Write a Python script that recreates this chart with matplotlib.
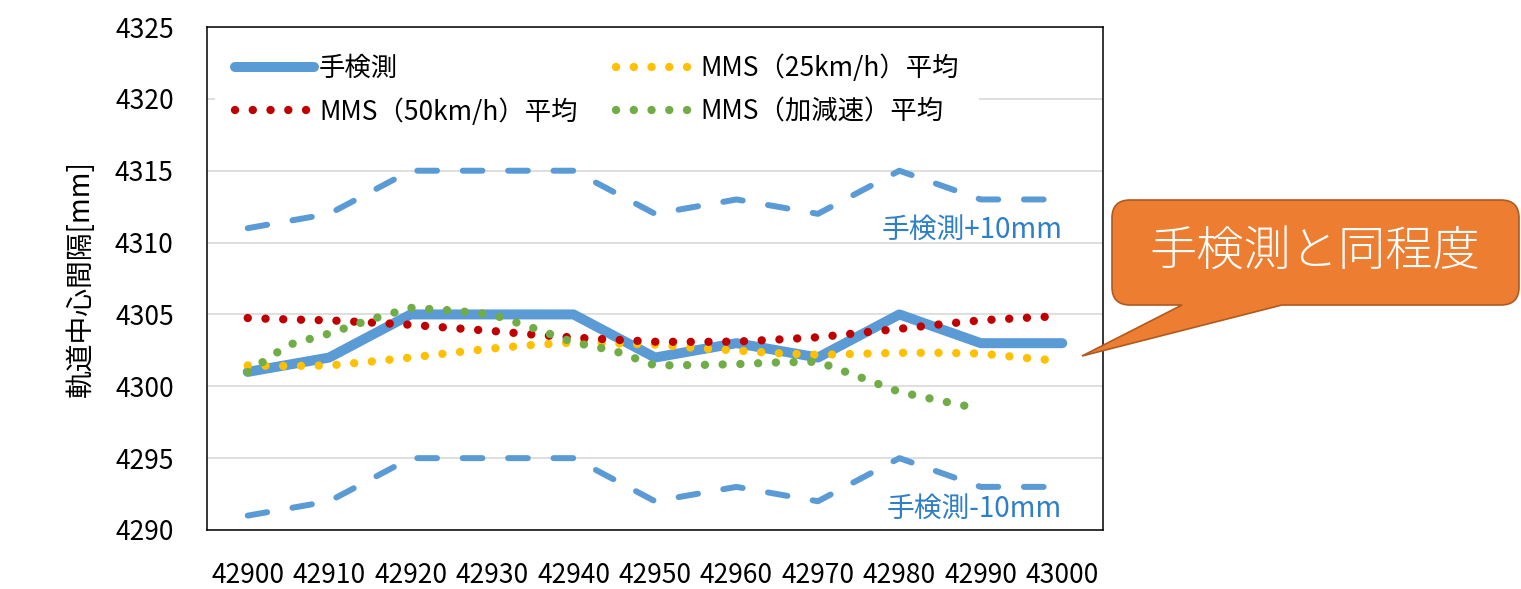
import matplotlib.pyplot as plt
from matplotlib.path import Path
from matplotlib.patches import PathPatch

plt.rcParams['font.family'] = ['Noto Sans CJK JP', 'DejaVu Sans']

# hand measurement every 10 m
x_hand = [42900, 42910, 42920, 42930, 42940, 42950, 42960, 42970, 42980, 42990, 43000]
hand = [4301, 4302, 4305, 4305, 4305, 4302, 4303, 4302, 4305, 4303, 4303]
hand_plus = [4311, 4312, 4315, 4315, 4315, 4312, 4313, 4312, 4315, 4313, 4313]
hand_minus = [4291, 4292, 4295, 4295, 4295, 4292, 4293, 4292, 4295, 4293, 4293]

x_mms = [42900, 42905, 42910, 42915, 42920, 42925, 42930, 42935, 42940, 42945, 42950,
         42955, 42960, 42965, 42970, 42975, 42980, 42985, 42990, 42995, 43000]
mms25 = [4301.45, 4301.41, 4301.45, 4301.71, 4302.00, 4302.33, 4302.63, 4302.88, 4303.04, 4302.99, 4302.90,
         4302.67, 4302.49, 4302.30, 4302.19, 4302.26, 4302.33, 4302.33, 4302.28, 4302.00, 4301.75]
mms50 = [4304.75, 4304.65, 4304.59, 4304.44, 4304.28, 4304.06, 4303.85, 4303.60, 4303.39, 4303.24, 4303.10,
         4303.09, 4303.11, 4303.25, 4303.41, 4303.71, 4304.00, 4304.31, 4304.59, 4304.75, 4304.89]
x_acc = [42900, 42905, 42910, 42915, 42920, 42925, 42930, 42935, 42940, 42945, 42950,
         42955, 42960, 42965, 42970, 42975, 42980, 42985, 42988]
mms_acc = [4300.99, 4302.88, 4303.67, 4304.63, 4305.46, 4305.28, 4305.00, 4304.06, 4303.06, 4302.47, 4301.45,
           4301.48, 4301.54, 4301.66, 4301.71, 4300.67, 4299.61, 4299.00, 4298.65]

W, H = 1521, 589
fig = plt.figure(figsize=(W / 100, H / 100), dpi=100)
ax = fig.add_axes([207 / W, 1 - 530 / H, (1103 - 207) / W, (530 - 27) / H])

blue = '#5B9BD5'
dots = dict(lw=6.0, linestyle=(0, (0.01, 2.12)), dash_capstyle='round')

ax.plot(x_hand, hand_plus, color=blue, lw=4.3, linestyle=(0, (3.3, 4.3)), dash_capstyle='round')
ax.plot(x_hand, hand_minus, color=blue, lw=4.3, linestyle=(0, (3.3, 4.3)), dash_capstyle='round')
l_hand, = ax.plot(x_hand, hand, color=blue, lw=7.2, solid_capstyle='round', label='手検測')
l25, = ax.plot(x_mms, mms25, color='#FFC000', label='MMS（25km/h）平均', **dots)
l50, = ax.plot(x_mms, mms50, color='#C00000', label='MMS（50km/h）平均', **dots)
lacc, = ax.plot(x_acc, mms_acc, color='#70AD47', label='MMS（加減速）平均', **dots)

ax.set_xlim(42895, 43005)
ax.set_ylim(4290, 4325)
ax.set_xticks(x_hand)
ax.set_yticks(range(4290, 4326, 5))
ax.tick_params(length=0, labelsize=19, pad=23)
ax.tick_params(axis='y', pad=24)
ax.grid(axis='y', color='#D9D9D9', lw=1.2)
ax.set_axisbelow(True)
for s in ax.spines.values():
    s.set_color('black')
    s.set_linewidth(1.1)
ax.set_ylabel('軌道中心間隔[mm]', fontsize=20, labelpad=14)

leg = ax.legend([l_hand, l50, l25, lacc], [l.get_label() for l in [l_hand, l50, l25, lacc]],
                ncol=2, loc='upper left', bbox_to_anchor=(0.0, 1.0), fontsize=19,
                handlelength=3.0, handletextpad=0.2, columnspacing=1.45, labelspacing=0.6,
                frameon=True, facecolor='white', edgecolor='none', framealpha=1,
                borderpad=0.75, borderaxespad=0.3)

ax.text(43000, 4310.9, '手検測+10mm', color='#2F7FC8', fontsize=20, ha='right', va='center')
ax.text(43000, 4291.5, '手検測-10mm', color='#2F7FC8', fontsize=20, ha='right', va='center')

# callout bubble in figure pixels
L, R, T, B, r = 1112, 1519, 200, 305, 18
pts = [(L + r, T), (R - r, T), (R, T), (R, T + r), (R, B - r), (R, B), (R - r, B),
       (1282, B), (1082, 356), (1182, B), (L + r, B), (L, B), (L, B - r), (L, T + r), (L, T), (L + r, T)]
codes = [Path.MOVETO, Path.LINETO, Path.CURVE3, Path.CURVE3, Path.LINETO, Path.CURVE3, Path.CURVE3,
         Path.LINETO, Path.LINETO, Path.LINETO, Path.LINETO, Path.CURVE3, Path.CURVE3, Path.LINETO,
         Path.CURVE3, Path.CURVE3]
verts = [(x / W, 1 - y / H) for x, y in pts]
bubble = PathPatch(Path(verts, codes), facecolor='#ED7D31', edgecolor='#AE5A21', lw=1.2,
                   transform=fig.transFigure)
fig.patches.append(bubble)
fig.text(1315 / W, 1 - 252 / H, '手検測と同程度', color='white', fontsize=34, fontweight='light',
         ha='center', va='center')

fig.savefig('out.png', dpi=100)
